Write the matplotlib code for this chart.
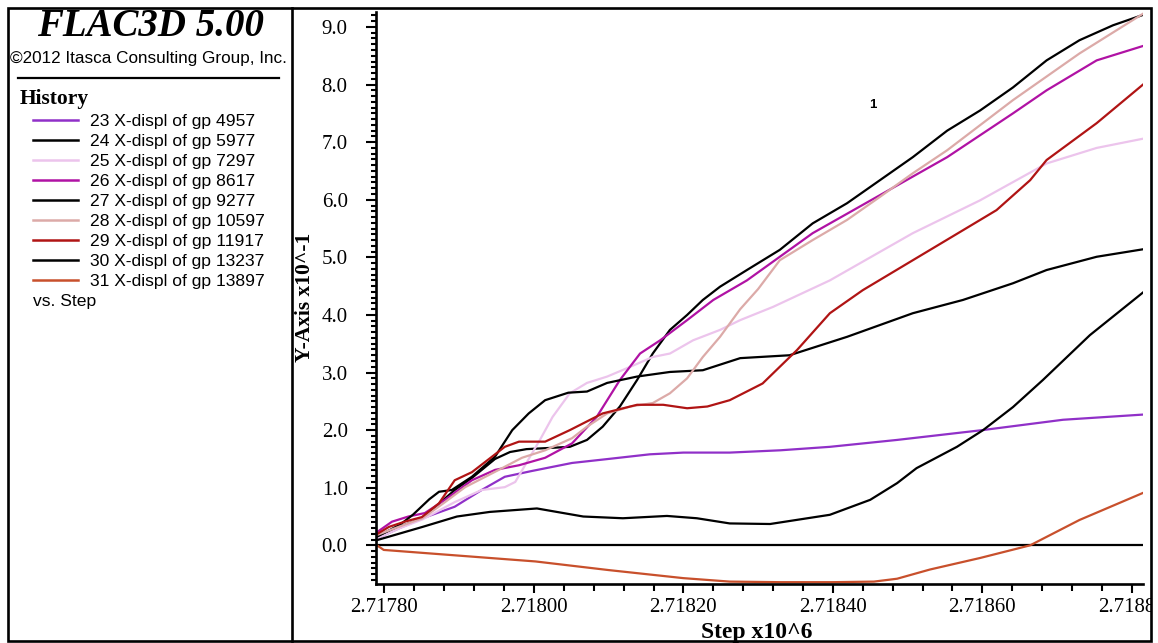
import matplotlib
matplotlib.use("Agg")
import matplotlib.pyplot as plt
import numpy as np
from matplotlib.lines import Line2D
from matplotlib.patches import Rectangle
from matplotlib.ticker import FuncFormatter, MultipleLocator

W, H = 1158, 643
SERIF = "Liberation Serif"
SANS = "Liberation Sans"

# ------------------------------------------------------------------ #
# History data (step, X-displ x10^-1)
# ------------------------------------------------------------------ #
hist_ids = [23, 24, 25, 26, 27, 28, 29, 30, 31]
gp_ids = [4957, 5977, 7297, 8617, 9277, 10597, 11917, 13237, 13897]
colors = ["#9030c8", "#000000", "#ecc4ec", "#b012a4", "#000000",
          "#dcaaa8", "#b01414", "#000000", "#c8502c"]

s23_step = [2717790, 2717820, 2717851, 2717894, 2717930, 2717961, 2717997,
            2718051, 2718100, 2718155, 2718200, 2718262, 2718330, 2718396,
            2718486, 2718600, 2718708, 2718815]
s23_val = [0.12, 0.30, 0.47, 0.67, 0.96, 1.19, 1.29, 1.43, 1.50, 1.58, 1.61,
           1.61, 1.65, 1.71, 1.83, 2.00, 2.18, 2.27]

s24_step = [2717790, 2717821, 2717848, 2717863, 2717894, 2717917, 2717948,
            2717968, 2717990, 2718020, 2718048, 2718071, 2718092, 2718115,
            2718138, 2718159, 2718182, 2718205, 2718226, 2718249, 2718285,
            2718329, 2718373, 2718419, 2718463, 2718507, 2718553, 2718597,
            2718641, 2718686, 2718730, 2718775, 2718815]
s24_val = [0.15, 0.33, 0.45, 0.61, 0.96, 1.17, 1.50, 1.62, 1.67, 1.69, 1.71,
           1.83, 2.06, 2.41, 2.87, 3.33, 3.74, 4.00, 4.26, 4.49, 4.78, 5.13,
           5.59, 5.94, 6.34, 6.74, 7.20, 7.55, 7.95, 8.42, 8.77, 9.03, 9.21]

s25_step = [2717790, 2717821, 2717851, 2717894, 2717930, 2717961, 2717975,
            2718008, 2718025, 2718048, 2718071, 2718098, 2718129, 2718159,
            2718182, 2718213, 2718249, 2718276, 2718320, 2718396, 2718507,
            2718597, 2718686, 2718753, 2718815]
s25_val = [0.12, 0.30, 0.45, 0.75, 0.96, 1.01, 1.10, 1.83, 2.23, 2.64, 2.82,
           2.93, 3.10, 3.27, 3.33, 3.56, 3.74, 3.91, 4.14, 4.60, 5.42, 5.99,
           6.63, 6.90, 7.06]

s26_step = [2717788, 2717810, 2717832, 2717854, 2717881, 2717917, 2717948,
            2717980, 2718015, 2718051, 2718084, 2718115, 2718142, 2718169,
            2718205, 2718240, 2718285, 2718373, 2718463, 2718553, 2718641,
            2718686, 2718753, 2718815]
s26_val = [0.21, 0.41, 0.50, 0.56, 0.79, 1.13, 1.31, 1.39, 1.52, 1.77, 2.23,
           2.87, 3.33, 3.56, 3.91, 4.26, 4.60, 5.42, 6.08, 6.74, 7.50, 7.90,
           8.42, 8.67]

s27_step = [2717790, 2717821, 2717838, 2717860, 2717873, 2717890, 2717917,
            2717948, 2717971, 2717993, 2718015, 2718046, 2718071, 2718098,
            2718138, 2718182, 2718226, 2718276, 2718342, 2718419, 2718507,
            2718574, 2718641, 2718686, 2718753, 2718815]
s27_val = [0.15, 0.36, 0.53, 0.80, 0.93, 0.96, 1.19, 1.54, 2.00, 2.29, 2.52,
           2.65, 2.67, 2.82, 2.93, 3.01, 3.04, 3.25, 3.30, 3.62, 4.03, 4.26,
           4.55, 4.78, 5.01, 5.14]

s28_step = [2717790, 2717821, 2717851, 2717881, 2717908, 2717953, 2717984,
            2718015, 2718051, 2718071, 2718098, 2718129, 2718159, 2718182,
            2718205, 2718226, 2718249, 2718276, 2718300, 2718329, 2718373,
            2718419, 2718463, 2718507, 2718553, 2718641, 2718730, 2718815]
s28_val = [0.18, 0.33, 0.47, 0.75, 1.01, 1.31, 1.52, 1.65, 1.86, 2.06, 2.29,
           2.41, 2.47, 2.64, 2.90, 3.27, 3.62, 4.10, 4.45, 4.95, 5.30, 5.65,
           6.05, 6.46, 6.86, 7.73, 8.54, 9.23]

s29_step = [2717788, 2717806, 2717827, 2717850, 2717873, 2717894, 2717917,
            2717944, 2717961, 2717980, 2718015, 2718048, 2718092, 2718138,
            2718173, 2718205, 2718232, 2718262, 2718306, 2718352, 2718396,
            2718440, 2718507, 2718574, 2718619, 2718664, 2718686, 2718753,
            2718815]
s29_val = [0.18, 0.32, 0.41, 0.49, 0.73, 1.13, 1.27, 1.54, 1.71, 1.80, 1.80,
           2.00, 2.29, 2.44, 2.44, 2.38, 2.41, 2.52, 2.81, 3.39, 4.03, 4.43,
           4.95, 5.47, 5.82, 6.34, 6.69, 7.33, 8.00]

s30_step = [2717790, 2717851, 2717897, 2717941, 2718004, 2718066, 2718119,
            2718178, 2718218, 2718262, 2718316, 2718396, 2718450, 2718486,
            2718512, 2718566, 2718601, 2718641, 2718681, 2718744, 2718815]
s30_val = [0.09, 0.32, 0.50, 0.58, 0.64, 0.50, 0.47, 0.51, 0.47, 0.38, 0.37,
           0.53, 0.79, 1.08, 1.34, 1.71, 2.00, 2.40, 2.87, 3.65, 4.39]

# flat stretch sits on the bottom of the axis in the original
s31_step = [2717790, 2717799, 2718002, 2718100, 2718200, 2718262, 2718330,
            2718400, 2718455, 2718486, 2718530, 2718597, 2718664, 2718730,
            2718815]
s31_val = [0.00, -0.08, -0.28, -0.43, -0.57, -0.63, -0.64, -0.64, -0.63,
           -0.58, -0.42, -0.22, 0.00, 0.44, 0.91]

series = [(s23_step, s23_val), (s24_step, s24_val), (s25_step, s25_val),
          (s26_step, s26_val), (s27_step, s27_val), (s28_step, s28_val),
          (s29_step, s29_val), (s30_step, s30_val), (s31_step, s31_val)]

x_range = (2717788, 2718815)
y_range = (-0.663, 9.26)


def fx(px):
    return px / W


def fy(py):
    return 1 - py / H


# ------------------------------------------------------------------ #
# Figure
# ------------------------------------------------------------------ #
fig = plt.figure(figsize=(W / 100, H / 100), dpi=100)
ax = fig.add_axes([fx(375.5), fy(583.5), fx(1143) - fx(375.5),
                   fy(12) - fy(583.5)])

ax.axhline(0.0, color="black", lw=1.6, zorder=1)
# draw order: later histories on top
for (st, v), c in zip(series, colors):
    ax.plot(np.array(st) / 1e6, v, "-", color=c, lw=1.6, zorder=2,
            clip_on=True)

ax.set_xlim(x_range[0] / 1e6, x_range[1] / 1e6)
ax.set_ylim(*y_range)

ax.xaxis.set_major_locator(MultipleLocator(0.0002))
ax.xaxis.set_minor_locator(MultipleLocator(0.00004))
ax.xaxis.set_major_formatter(FuncFormatter(lambda v, p: f"{v:.5f}"))
ax.yaxis.set_major_locator(MultipleLocator(1.0))
ax.yaxis.set_minor_locator(MultipleLocator(0.1))
ax.yaxis.set_major_formatter(FuncFormatter(lambda v, p: f"{v:.1f}"))

for s in ("top", "right"):
    ax.spines[s].set_visible(False)
for s in ("left", "bottom"):
    ax.spines[s].set_linewidth(1.9)

ax.tick_params(axis="both", which="both", direction="out", width=1.5,
               colors="black")
ax.tick_params(axis="y", which="major", length=7, pad=13)
ax.tick_params(axis="y", which="minor", length=3.5)
ax.tick_params(axis="x", which="major", length=6.5, pad=4)
ax.tick_params(axis="x", which="minor", length=5)
for lab in ax.get_xticklabels() + ax.get_yticklabels():
    lab.set_fontfamily(SERIF)
    lab.set_fontsize(15)

ax.set_ylabel("Y-Axis x10^-1", family=SERIF, fontsize=15.5,
              fontweight="bold", va="center")
ax.yaxis.set_label_coords(-0.092, 0.5)
ax.set_xlabel("Step x10^6", family=SERIF, fontsize=17,
              fontweight="bold", va="center")
ax.xaxis.set_label_coords(0.497, -0.085)

fig.text(fx(873), fy(105), "1", family=SANS, fontsize=9.5,
         fontweight="bold", ha="center", va="center")

# ------------------------------------------------------------------ #
# Left info panel
# ------------------------------------------------------------------ #
fig.text(fx(151), fy(27), "FLAC3D 5.00", family=SERIF, fontsize=28,
         fontweight="bold", style="italic", ha="center", va="center")
fig.text(fx(148), fy(59), "\u00a92012 Itasca Consulting Group, Inc.",
         family=SANS, fontsize=12.3, ha="center", va="center")
fig.add_artist(Line2D([fx(18), fx(279)], [fy(78), fy(78)], color="black",
                      lw=1.6, transform=fig.transFigure))
fig.text(fx(20), fy(99), "History", family=SERIF, fontsize=15.5,
         fontweight="bold", ha="left", va="center")

for i, (hid, gp, c) in enumerate(zip(hist_ids, gp_ids, colors)):
    row = 120 + 20 * i
    fig.add_artist(Line2D([fx(33), fx(78)], [fy(row), fy(row)], color=c,
                          lw=1.8, transform=fig.transFigure))
    fig.text(fx(90), fy(row + 1.5), f"{hid} X-displ of gp {gp}",
             family=SANS, fontsize=12.6, ha="left", va="center")
fig.text(fx(33), fy(301.5), "vs. Step", family=SANS, fontsize=12.6,
         ha="left", va="center")

# mask and frame (the last tick label is cut by the frame, as in the original)
fig.add_artist(Rectangle((fx(1152), 0), 1 - fx(1152), 1, color="white",
                         transform=fig.transFigure, zorder=10))
fig.add_artist(Rectangle((fx(8), fy(641)), fx(1151) - fx(8),
                         fy(7.5) - fy(641), fill=False, ec="black", lw=1.9,
                         transform=fig.transFigure, zorder=11))
fig.add_artist(Line2D([fx(292), fx(292)], [fy(641), fy(7.5)], color="black",
                      lw=1.9, transform=fig.transFigure, zorder=11))

fig.savefig("out.png", dpi=100)
